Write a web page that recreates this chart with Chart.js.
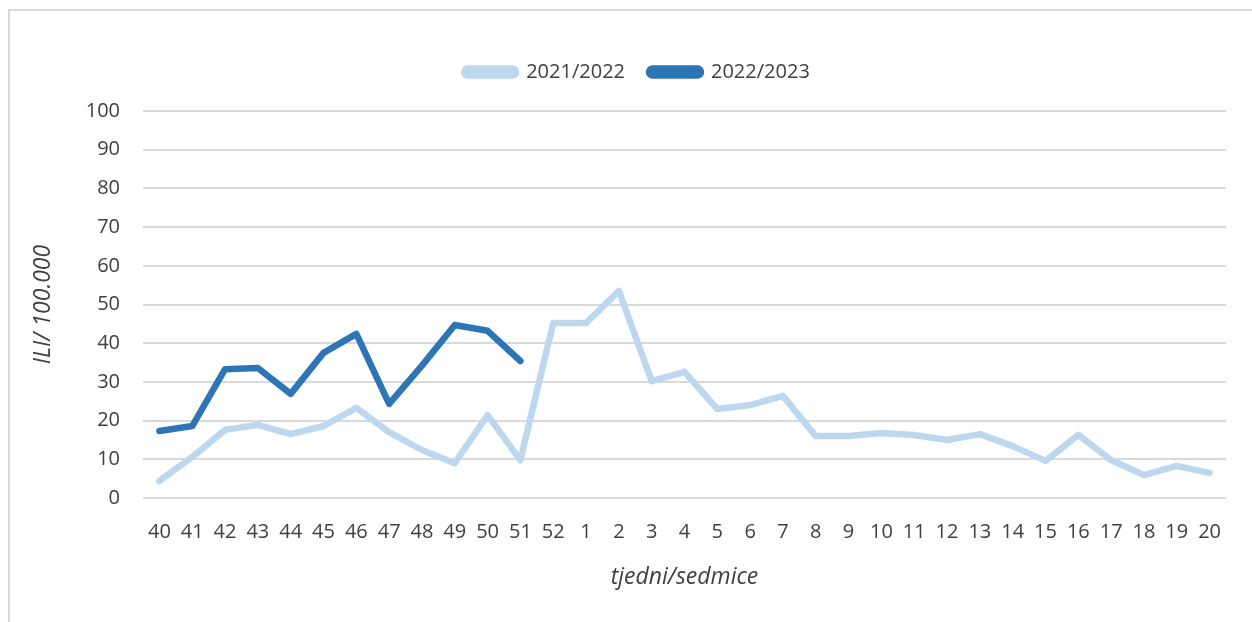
<!DOCTYPE html>
<html>
<head>
<meta charset="utf-8">
<script src="https://cdn.jsdelivr.net/npm/chart.js@4"></script>
<style>
  html, body { margin: 0; padding: 0; background: #fff; }
  #frame { position: absolute; left: 8px; top: 9px; width: 1260px; height: 640px; border: 2px solid #d9d9d9; box-sizing: border-box; }
  #wrap { position: absolute; left: 0; top: 0; width: 1252px; height: 622px; }
</style>
</head>
<body>
<div id="frame"></div>
<div id="wrap"><canvas id="ili-chart"></canvas></div>
<script>
// tjedni/sedmice
const weeks = ['40','41','42','43','44','45','46','47','48','49','50','51','52',
  '1','2','3','4','5','6','7','8','9','10','11','12','13','14','15','16','17','18','19','20'];

const season2122 = [4.4, 10.6, 17.6, 18.9, 16.5, 18.6, 23.3, 17.0, 12.4, 9.0, 21.4, 9.8, 45.2,
  45.2, 53.5, 30.2, 32.6, 23.0, 24.0, 26.4, 16.0, 16.0, 16.8, 16.3, 15.0, 16.5, 13.4, 9.6, 16.3, 9.8, 5.9, 8.3, 6.5];

const season2223 = [17.3, 18.6, 33.3, 33.6, 26.9, 37.5, 42.4, 24.3, 34.2, 44.7, 43.2, 35.4];

const yTicks = [0, 10, 20, 30, 40, 50, 60, 70, 80, 90, 100];

const fontFamily = "'Open Sans', 'Noto Sans', sans-serif";
const textColor = '#404040';

document.addEventListener('DOMContentLoaded', () => {
  const canvas = document.getElementById('ili-chart');

  // legenda: fiksna visina i malo pomaknuta udesno
  const legendTweak = {
    id: 'legendTweak',
    beforeInit(chart) {
      const origFit = chart.legend.fit;
      chart.legend.fit = function () {
        origFit.call(this);
        this.height = 73;
      };
    },
    afterLayout(chart) {
      chart.legend.left += 12;
      chart.legend.right += 12;
    }
  };

  new Chart(canvas, {
    type: 'line',
    data: {
      labels: weeks,
      datasets: [
        {
          label: '2021/2022',
          data: season2122,
          borderColor: '#bdd7ee',
          backgroundColor: '#bdd7ee',
          borderWidth: 6.5,
          pointRadius: 0,
          tension: 0,
          borderJoinStyle: 'round',
          borderCapStyle: 'round'
        },
        {
          label: '2022/2023',
          data: season2223,
          borderColor: '#2e75b6',
          backgroundColor: '#2e75b6',
          borderWidth: 6.5,
          pointRadius: 0,
          tension: 0,
          borderJoinStyle: 'round',
          borderCapStyle: 'round'
        }
      ]
    },
    options: {
      responsive: true,
      maintainAspectRatio: false,
      animation: false,
      layout: { padding: { left: 24, right: 26, top: 38, bottom: 0 } },
      plugins: {
        tooltip: { enabled: false },
        legend: {
          position: 'top',
          labels: {
            boxWidth: 52,
            boxHeight: 7,
            useBorderRadius: true,
            borderRadius: 3.5,
            padding: 24,
            color: textColor,
            font: { family: fontFamily, size: 20 }
          }
        }
      },
      scales: {
        x: {
          offset: true,
          afterFit: scale => { scale.height = 124; },
          grid: { display: false, drawTicks: false },
          border: { display: false },
          ticks: {
            color: textColor,
            padding: 22,
            maxRotation: 0,
            autoSkip: false,
            font: { family: fontFamily, size: 20 }
          },
          title: {
            display: true,
            text: 'tjedni/sedmice',
            color: textColor,
            padding: { top: 0, bottom: 31 },
            font: { family: fontFamily, size: 23, style: 'italic' }
          }
        },
        y: {
          min: 0,
          max: 100,
          afterBuildTicks: scale => { scale.ticks = yTicks.map(v => ({ value: v })); },
          afterFit: scale => { scale.width = 119; },
          grid: { color: '#d9d9d9', lineWidth: 2, drawTicks: false },
          border: { display: false },
          ticks: {
            color: textColor,
            padding: 23,
            font: { family: fontFamily, size: 20 }
          },
          title: {
            display: true,
            text: 'ILI/ 100.000',
            color: textColor,
            padding: { top: 6, bottom: 0 },
            font: { family: fontFamily, size: 23, style: 'italic' }
          }
        }
      }
    },
    plugins: [legendTweak]
  });
});
</script>
</body>
</html>
